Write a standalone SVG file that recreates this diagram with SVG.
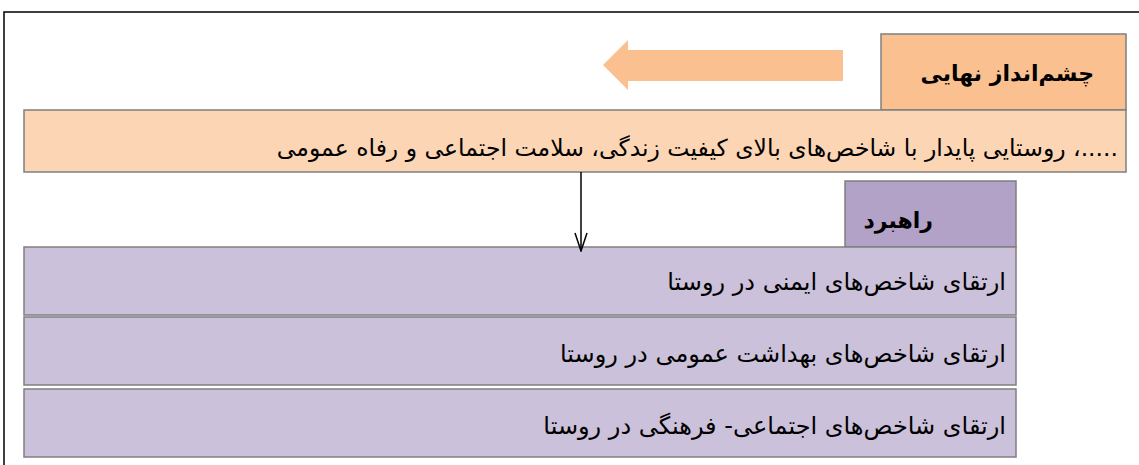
<svg xmlns="http://www.w3.org/2000/svg" width="1139" height="465" viewBox="0 0 1139 465">
<style>
.box{stroke:#7f7f7f;stroke-width:1.5}
.t{font-family:"DejaVu Sans","Noto Sans",sans-serif;fill:#000;direction:rtl;text-anchor:start}
.b{font-weight:bold}
</style>
<defs>
<marker id="v" markerWidth="20" markerHeight="14" refX="19" refY="7" orient="auto" markerUnits="userSpaceOnUse" viewBox="0 0 20 14">
<path d="M1,1 L19,7 L1,13" fill="none" stroke="#000" stroke-width="1.5"/>
</marker>
</defs>
<rect width="1139" height="465" fill="#fff"/>
<path d="M4,465 V12 H1139" fill="none" stroke="#000" stroke-width="1.5"/>
<g id="vision-title">
<rect class="box" x="881" y="34" width="245" height="76" fill="#FAC090"/>
<text class="t b" x="1094" y="81" font-size="22">چشم‌انداز نهایی</text>
</g>
<g id="vision">
<rect class="box" x="24" y="110" width="1102" height="62" fill="#FCD5B5"/>
<text class="t" x="1118" y="156" font-size="23.5">.....، روستایی پایدار با شاخص‌های بالای کیفیت زندگی، سلامت اجتماعی و رفاه عمومی</text>
</g>
<g id="strategy-title">
<rect class="box" x="845" y="181" width="171" height="66" fill="#B3A2C7"/>
<text class="t b" x="933" y="228" font-size="22">راهبرد</text>
</g>
<g id="s1">
<rect class="box" x="24" y="247" width="992" height="68" fill="#CCC1DA"/>
<text class="t" x="1006" y="290" font-size="24">ارتقای شاخص‌های ایمنی در روستا</text>
</g>
<g id="s2">
<rect class="box" x="24" y="317" width="992" height="68" fill="#CCC1DA"/>
<text class="t" x="1006" y="362" font-size="24">ارتقای شاخص‌های بهداشت عمومی  در روستا</text>
</g>
<g id="s3">
<rect class="box" x="24" y="389" width="992" height="68" fill="#CCC1DA"/>
<text class="t" x="1006" y="434" font-size="24">ارتقای شاخص‌های اجتماعی- فرهنگی  در روستا</text>
</g>
<g id="connectors">
<polygon id="bigArrow" points="843,50 628,50 628,40 603,65 628,90 628,81 843,81" fill="#FAC090"/>
<line x1="581" y1="172" x2="581" y2="251" stroke="#000" stroke-width="1.5" marker-end="url(#v)"/>
</g>
</svg>
